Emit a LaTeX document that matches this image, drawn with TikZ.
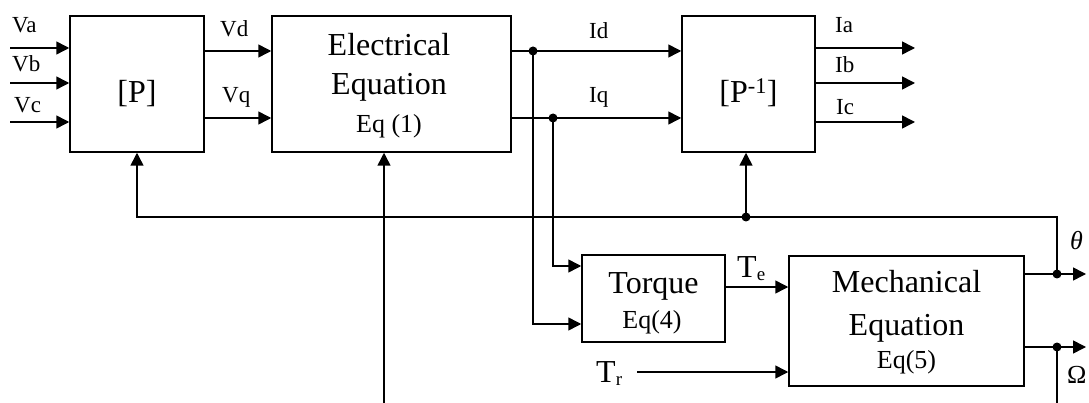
\documentclass[tikz,border=0pt]{standalone}
\usepackage{fontspec}
\setmainfont{Liberation Serif}
\usetikzlibrary{arrows.meta}
\begin{document}
\begin{tikzpicture}[x=1pt,y=-1pt,
  blk/.style={draw, line width=1.5pt, inner sep=0pt, fill=none},
  wire/.style={line width=1.5pt},
  arr/.style={wire,-{Triangle[length=13pt,width=13pt]}},
  lbl/.style={font=\fontsize{23}{23}\selectfont, inner sep=0pt, anchor=base west},
  bigtxt/.style={font=\fontsize{32}{32}\selectfont, inner sep=0pt, anchor=base},
  eqtxt/.style={font=\fontsize{26}{26}\selectfont, inner sep=0pt, anchor=base},
  jdot/.style={circle, fill, inner sep=0pt, minimum size=9pt}]
\useasboundingbox (0,0) rectangle (1089,403);

% blocks
\node[blk, minimum width=134pt, minimum height=136pt] (P) at (137,84) {};
\node[blk, minimum width=239pt, minimum height=136pt] (E) at (391.5,84) {};
\node[blk, minimum width=133pt, minimum height=136pt] (Pi) at (748.5,84) {};
\node[blk, minimum width=143pt, minimum height=87pt] (T) at (653.5,298.5) {};
\node[blk, minimum width=235pt, minimum height=130pt] (M) at (906.5,321) {};

% block texts
\node[bigtxt] (Ptxt) at (137,103) {[P]};
\node[bigtxt] (E1) at (389,56) {Electrical};
\node[bigtxt] (E2) at (389,95) {Equation};
\node[eqtxt] (E3) at (389,133) {Eq (1)};
\node[bigtxt] (Pitxt) at (748.5,103) {[P\textsuperscript{-1}]};
\node[bigtxt] (T1) at (653.5,293) {Torque};
\node[eqtxt] (T2) at (652,328) {Eq(4)};
\node[bigtxt] (M1) at (906.5,292) {Mechanical};
\node[bigtxt] (M2) at (906.5,335) {Equation};
\node[eqtxt] (M3) at (906.5,368) {Eq(5)};

% inputs
\coordinate (va) at (10,48);
\coordinate (vb) at (10,83);
\coordinate (vc) at (10,122);
\draw[arr] (va) -- (P.west |- va);
\draw[arr] (vb) -- (P.west |- vb);
\draw[arr] (vc) -- (P.west |- vc);
\node[lbl] (lva) at (12,33) {Va};
\node[lbl] (lvb) at (12,72) {Vb};
\node[lbl] (lvc) at (14,113) {Vc};

% Vd, Vq
\coordinate (yd) at (0,51);
\coordinate (yq) at (0,118);
\draw[arr] (P.east |- yd) -- (E.west |- yd);
\draw[arr] (P.east |- yq) -- (E.west |- yq);
\node[lbl] (lvd) at (220,37) {Vd};
\node[lbl] (lvq) at (222,103) {Vq};

% Id, Iq
\coordinate (jd) at (533,51);
\coordinate (jq) at (553,118);
\draw[arr] (E.east |- yd) -- (Pi.west |- yd);
\draw[arr] (E.east |- yq) -- (Pi.west |- yq);
\node[jdot] (dd) at (jd) {};
\node[jdot] (dq) at (jq) {};
\node[lbl] (lid) at (589,39) {Id};
\node[lbl] (liq) at (589,103) {Iq};

% to torque
\coordinate (t1) at (0,266);
\coordinate (t2) at (0,324);
\draw[arr] (jq) -- (jq |- t1) -- (T.west |- t1);
\draw[arr] (jd) -- (jd |- t2) -- (T.west |- t2);

% outputs Ia Ib Ic
\coordinate (ia) at (915,48);
\coordinate (ib) at (915,83);
\coordinate (ic) at (915,122);
\draw[arr] (Pi.east |- ia) -- (ia);
\draw[arr] (Pi.east |- ib) -- (ib);
\draw[arr] (Pi.east |- ic) -- (ic);
\node[lbl] (lia) at (835,33) {Ia};
\node[lbl] (lib) at (835,73) {Ib};
\node[lbl] (lic) at (836,115) {Ic};

% Te, Tr
\coordinate (yte) at (0,287);
\draw[arr] (T.east |- yte) -- (M.west |- yte);
\node[inner sep=0pt, anchor=base west, font=\fontsize{32}{32}\selectfont] (lte) at (737,277) {T\textsubscript{\fontsize{19}{19}\selectfont e}};
\coordinate (trs) at (637,372);
\draw[arr] (trs) -- (M.west |- trs);
\node[inner sep=0pt, anchor=base west, font=\fontsize{32}{32}\selectfont] (ltr) at (596,382) {T\textsubscript{\fontsize{19}{19}\selectfont r}};

% outputs theta, Omega
\coordinate (jth) at (1057,274);
\coordinate (jom) at (1057,347);
\coordinate (oth) at (1086,274);
\coordinate (oom) at (1086,347);
\coordinate (fbc) at (1057,217);
\coordinate (omb) at (1057,403);
\draw[arr] (M.east |- jth) -- (oth);
\draw[arr] (M.east |- jom) -- (oom);
\node[jdot] (dth) at (jth) {};
\node[jdot] (dom) at (jom) {};
\draw[wire] (jom) -- (omb);
\node[inner sep=0pt, anchor=base west, font=\fontsize{26}{26}\selectfont\itshape] (lth) at (1070,250) {θ};
\node[inner sep=0pt, anchor=base west, font=\fontsize{26}{26}\selectfont] (lom) at (1067,383) {Ω};

% feedback
\coordinate (jfb) at (746,217);
\draw[arr] (jth) -- (fbc) -- (P.south |- fbc) -- (P.south);
\draw[arr] (jfb) -- (Pi.south -| jfb);
\node[jdot] (dfb) at (jfb) {};

% bottom input to electrical
\coordinate (eb) at (384,403);
\draw[arr] (eb) -- (E.south -| eb);
\end{tikzpicture}
\end{document}
